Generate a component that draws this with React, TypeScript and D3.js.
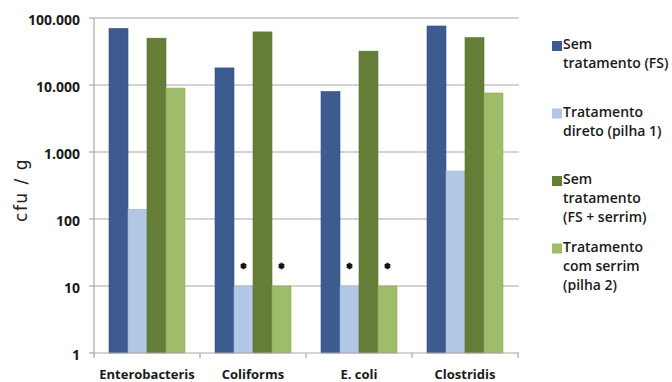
import React, { useEffect, useRef } from "react";
import * as d3 from "d3";

const categories = ["Enterobacteris", "Coliforms", "E. coli", "Clostridis"];
const seriesNames = [
  "Sem tratamento (FS)",
  "Tratamento direto (pilha 1)",
  "Sem tratamento (FS + serrim)",
  "Tratamento com serrim (pilha 2)",
];
// legend lines as they wrap in the reference
const legendLines = [
  ["Sem", "tratamento (FS)"],
  ["Tratamento", "direto (pilha 1)"],
  ["Sem", "tratamento", "(FS + serrim)"],
  ["Tratamento", "com serrim", "(pilha 2)"],
];
const semTratamento = [70000, 18000, 8000, 76000];
const tratamentoDireto = [140, 10, 10, 520];
const semTratamentoSerrim = [50000, 62000, 32000, 51000];
const tratamentoSerrim = [9000, 10, 10, 7600];
const yTicks = [1, 10, 100, 1000, 10000, 100000];
// bars marked with an asterisk: [category, series index]
const starred: [string, number][] = [
  ["Coliforms", 1],
  ["Coliforms", 3],
  ["E. coli", 1],
  ["E. coli", 3],
];

const colors = ["#3d5b8f", "#b2c8e4", "#657e37", "#9ebc69"];

const App = () => {
  const ref = useRef<SVGSVGElement>(null);

  useEffect(() => {
    const width = 672;
    const height = 382;
    const svg = d3.select(ref.current);
    svg.selectAll("*").remove();
    svg.attr("width", width).attr("height", height);

    const values = [semTratamento, tratamentoDireto, semTratamentoSerrim, tratamentoSerrim];

    const x = d3.scaleBand().domain(categories).range([94, 518]);
    const xInner = d3
      .scaleBand<number>()
      .domain([0, 1, 2, 3])
      .range([0, x.bandwidth()])
      .paddingOuter(0.79);
    const y = d3.scaleLog().domain([1, 100000]).range([353, 18]);

    const locale = d3.formatLocale({
      decimal: ",",
      thousands: ".",
      grouping: [3],
      currency: ["", ""],
    });
    const fmt = locale.format(",d");

    // grid
    svg
      .append("g")
      .selectAll("line")
      .data(yTicks.slice(1))
      .enter()
      .append("line")
      .attr("x1", 94)
      .attr("x2", 519)
      .attr("y1", (d) => y(d))
      .attr("y2", (d) => y(d))
      .attr("stroke", "#c4c4c4")
      .attr("stroke-width", 1.5);

    // bars
    values.forEach((vals, si) => {
      svg
        .append("g")
        .selectAll("rect")
        .data(vals)
        .enter()
        .append("rect")
        .attr("x", (d, i) => x(categories[i])! + xInner(si)!)
        .attr("width", xInner.bandwidth())
        .attr("y", (d) => y(d))
        .attr("height", (d) => y(1) - y(d))
        .attr("fill", colors[si])
        .attr("stroke", d3.color(colors[si])!.darker(0.25).toString())
        .attr("stroke-width", 0.6);
    });

    // asterisks
    const star = d3.symbol().type(d3.symbolAsterisk).size(28);
    svg
      .append("g")
      .selectAll("path")
      .data(starred)
      .enter()
      .append("path")
      .attr(
        "transform",
        (d) =>
          `translate(${x(d[0])! + xInner(d[1])! + xInner.bandwidth() / 2}, ${
            y(values[d[1]][categories.indexOf(d[0])]) - 20
          })`
      )
      .attr("d", star)
      .attr("stroke", "#111")
      .attr("stroke-width", 2.2)
      .attr("fill", "none");

    // axes
    const axisColor = "#a8a8a8";
    svg
      .append("line")
      .attr("x1", 94)
      .attr("x2", 94)
      .attr("y1", y(100000))
      .attr("y2", y(1))
      .attr("stroke", axisColor)
      .attr("stroke-width", 1.2);
    svg
      .append("line")
      .attr("x1", 94)
      .attr("x2", 519)
      .attr("y1", y(1))
      .attr("y2", y(1))
      .attr("stroke", axisColor)
      .attr("stroke-width", 1.2);

    svg
      .append("g")
      .selectAll("line")
      .data(yTicks)
      .enter()
      .append("line")
      .attr("x1", 89)
      .attr("x2", 94)
      .attr("y1", (d) => y(d))
      .attr("y2", (d) => y(d))
      .attr("stroke", axisColor)
      .attr("stroke-width", 1.2);

    const xEdges = categories.map((c) => x(c)!).concat([x.range()[1]]);
    svg
      .append("g")
      .selectAll("line")
      .data(xEdges)
      .enter()
      .append("line")
      .attr("x1", (d) => d)
      .attr("x2", (d) => d)
      .attr("y1", y(1))
      .attr("y2", y(1) + 5)
      .attr("stroke", axisColor)
      .attr("stroke-width", 1.2);

    svg
      .append("g")
      .selectAll("text")
      .data(yTicks)
      .enter()
      .append("text")
      .attr("x", 80)
      .attr("y", (d) => y(d) + 6.5)
      .attr("text-anchor", "end")
      .attr("font-family", "Open Sans")
      .attr("font-weight", "bold")
      .attr("font-size", 14)
      .attr("fill", "#1a1a1a")
      .text((d) => fmt(d));

    svg
      .append("g")
      .selectAll("text")
      .data(categories)
      .enter()
      .append("text")
      .attr("x", (d) => x(d)! + x.bandwidth() / 2)
      .attr("y", 378.5)
      .attr("text-anchor", "middle")
      .attr("font-family", "Open Sans")
      .attr("font-weight", "bold")
      .attr("font-size", 13)
      .attr("fill", "#1a1a1a")
      .text((d) => d);

    svg
      .append("text")
      .attr("transform", "translate(27,190) rotate(-90)")
      .attr("text-anchor", "middle")
      .attr("font-family", "DejaVu Sans")
      .attr("font-size", 17)
      .attr("letter-spacing", 1.5)
      .attr("fill", "#222")
      .text("cfu / g");

    // legend
    const legend = svg
      .append("g")
      .selectAll("g")
      .data(seriesNames)
      .enter()
      .append("g")
      .attr("transform", (d, i) => `translate(552, ${49 + i * 67.5})`);
    legend
      .append("rect")
      .attr("x", 0)
      .attr("y", -8)
      .attr("width", 10)
      .attr("height", 10)
      .attr("fill", (d, i) => colors[i]);
    legend
      .append("text")
      .attr("font-family", "Open Sans")
      .attr("font-weight", 600)
      .attr("font-size", 14)
      .attr("fill", "#1a1a1a")
      .selectAll("tspan")
      .data((d, i) => legendLines[i])
      .enter()
      .append("tspan")
      .attr("x", 11)
      .attr("y", (d, j) => j * 19)
      .text((d) => d);
  }, []);

  return <svg ref={ref} style={{ position: "absolute", left: 0, top: 0 }} />;
};

export default App;
